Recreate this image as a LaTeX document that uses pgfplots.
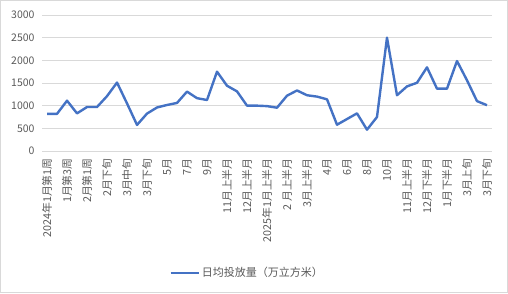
\documentclass[border=0pt]{standalone}
\usepackage{pgfplots}
\pgfplotsset{compat=1.18}
\usepackage{fontspec}
\setmainfont{Noto Sans CJK SC}
\definecolor{lineblue}{HTML}{4472C4}
\definecolor{tickgray}{HTML}{595959}
\definecolor{gridgray}{HTML}{D9D9D9}
\begin{document}
\begin{tikzpicture}
\begin{axis}[
  scale only axis, width=450pt, height=136pt,
  xmin=-0.5, xmax=44.5, ymin=0, ymax=3000,
  ytick={0,500,...,3000},
  xtick={0,2,...,44},
  xticklabels={2024年1月第1周,1月第3周,2月第1周,2月下旬,3月中旬,3月下旬,5月,7月,9月,11月上半月,12月上半月,2025年1月上半月,2 月上半月,3月上半月,4月,6月,8月,10月,11月上半月,12月下半月,1月下半月,3月上旬,3月下旬},
  x tick label style={rotate=90, anchor=east, font=\fontsize{10.8}{12}\selectfont, text=tickgray},
  y tick label style={font=\fontsize{10.5}{12}\selectfont, text=tickgray},
  /pgf/number format/assume math mode=true,
  /pgf/number format/1000 sep={},
  major tick length=0pt,
  ymajorgrids, grid style={gridgray, line width=0.8pt},
  axis x line*=bottom, axis y line*=left,
  y axis line style={draw=none},
  x axis line style={gridgray, line width=0.8pt},
  xticklabel shift=4pt, yticklabel shift=4pt,
  legend style={at={(0.456,-0.897)}, anchor=center, draw=none, fill=none,
    font=\fontsize{11}{12}\selectfont, text=tickgray},
  legend image code/.code={\draw[#1] (0pt,0pt) -- (28pt,0pt);},
  clip=false,
]
\addplot[lineblue, line width=2.4pt, line join=round] coordinates {
(0,820) (1,820) (2,1110) (3,830) (4,970) (5,970) (6,1210) (7,1510) (8,1050) (9,575)
(10,825) (11,960) (12,1015) (13,1060) (14,1310) (15,1165) (16,1125) (17,1750) (18,1440) (19,1315)
(20,1000) (21,1000) (22,990) (23,955) (24,1220) (25,1335) (26,1230) (27,1200) (28,1140) (29,580)
(30,705) (31,830) (32,470) (33,750) (34,2500) (35,1230) (36,1425) (37,1505) (38,1845) (39,1375)
(40,1375) (41,1985) (42,1560) (43,1100) (44,1010)
};
\addlegendentry{日均投放量（万立方米）}
\draw[gridgray, line width=0.8pt] (rel axis cs:-0.0925,-1.0415) rectangle (rel axis cs:1.0347,1.1074);
\end{axis}
\end{tikzpicture}
\end{document}
